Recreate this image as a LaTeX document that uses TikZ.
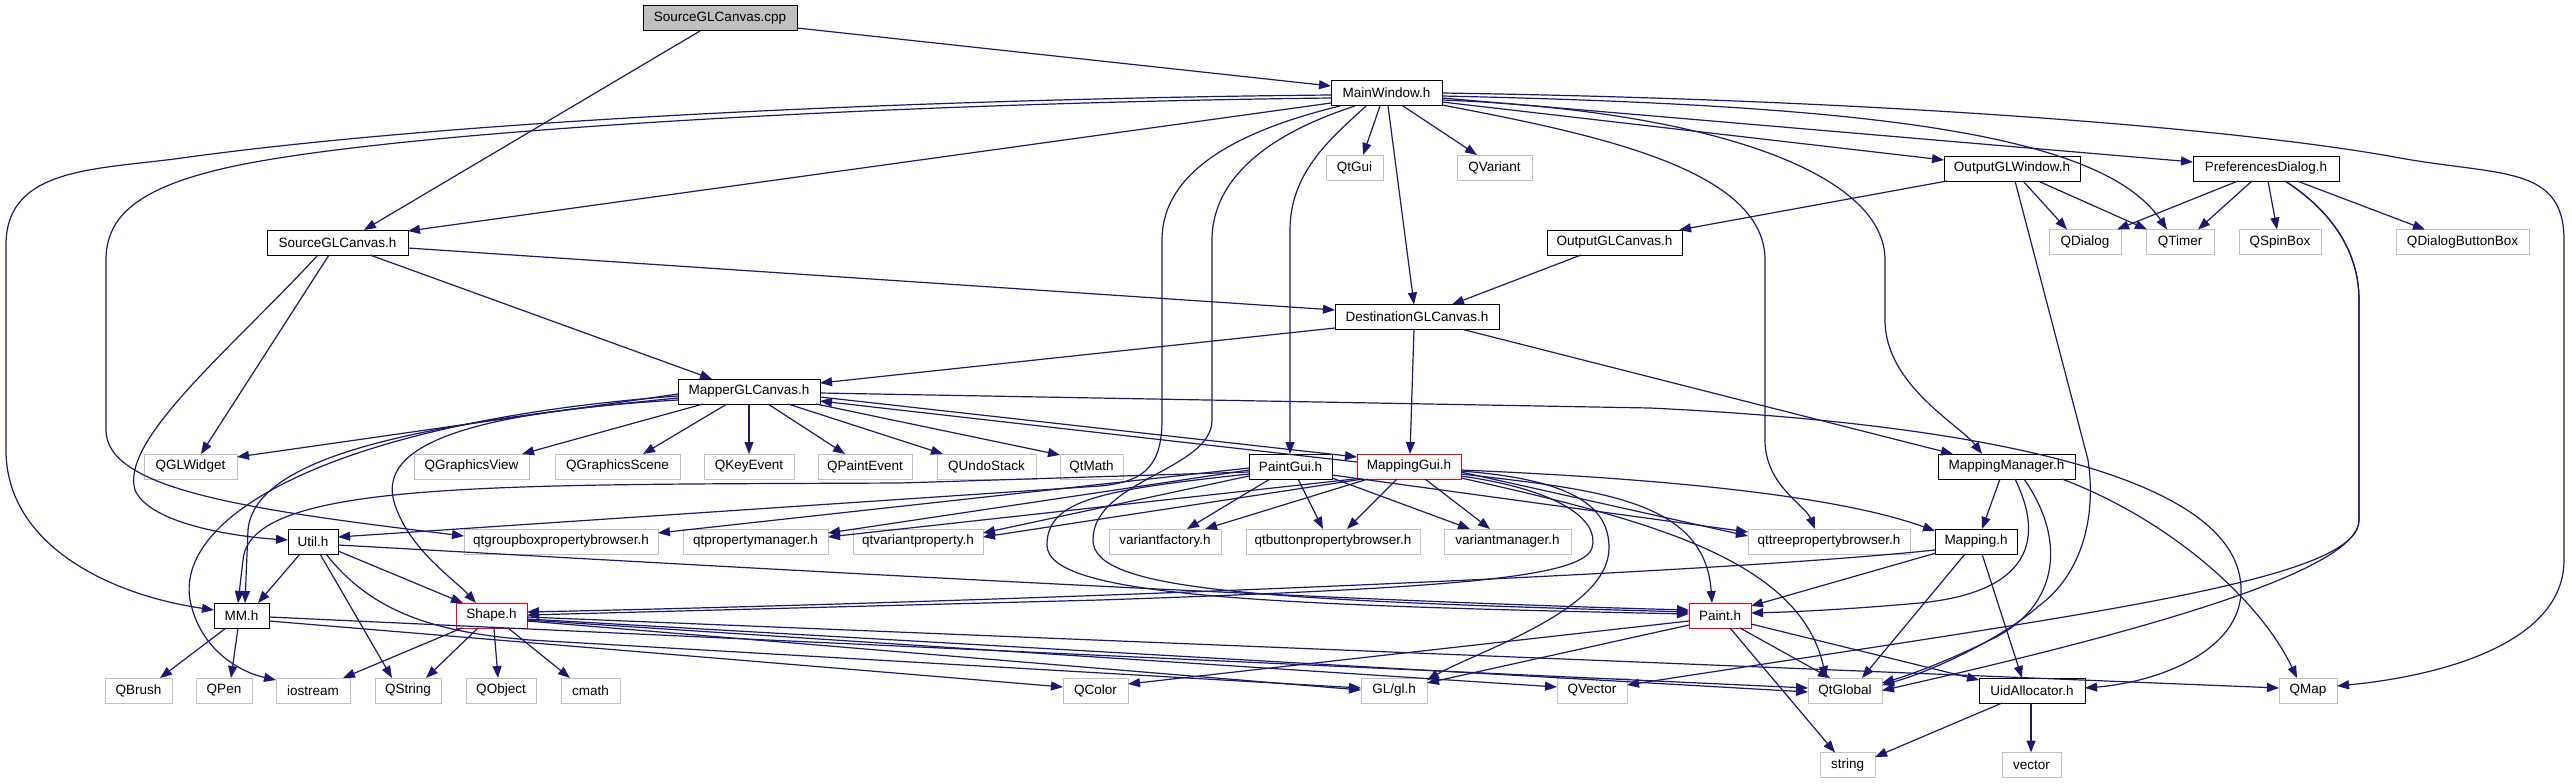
\documentclass[tikz,border=0pt]{standalone}
\usepackage{fontspec}
\setmainfont{Liberation Sans}
\usetikzlibrary{arrows.meta}
\definecolor{edgec}{RGB}{25,25,112}
\definecolor{grayc}{RGB}{191,191,191}
\newcommand{\lbfont}{\fontsize{13.5pt}{16pt}\selectfont}
\begin{document}
\begin{tikzpicture}[x=1pt,y=-1pt,
  nb/.style={draw, line width=1pt, minimum height=25pt, inner sep=0pt, font=\lbfont},
  gb/.style={nb, draw=grayc},
  bb/.style={nb, draw=black},
  rb/.style={nb, draw=red},
  cb/.style={nb, draw=black, fill=grayc},
  e/.style={draw=edgec, line width=1.2pt, -{Triangle[length=12pt,width=9pt]}}]
\fill[white] (0,0) rectangle (2572,784);
\useasboundingbox (0,0) rectangle (2572,784);
% nodes
\node[cb, minimum width=154pt] (cpp) at (720,18.5) {SourceGLCanvas.cpp};
\node[bb, minimum width=111pt] (mw) at (1386.5,93) {MainWindow.h};
\node[gb, minimum width=57pt] (qtgui) at (1354.5,167.5) {QtGui};
\node[gb, minimum width=75pt] (qvar) at (1494.5,167.5) {QVariant};
\node[bb, minimum width=136pt] (ogw) at (2012,168.5) {OutputGLWindow.h};
\node[bb, minimum width=146pt] (pd) at (2266,168.5) {PreferencesDialog.h};
\node[bb, minimum width=141pt] (sgc) at (337.5,242.5) {SourceGLCanvas.h};
\node[bb, minimum width=135pt] (ogc) at (1614.5,242.5) {OutputGLCanvas.h};
\node[gb, minimum width=72pt] (qdlg) at (2085,242) {QDialog};
\node[gb, minimum width=68pt] (qtimer) at (2180,242) {QTimer};
\node[gb, minimum width=82pt] (qspin) at (2280,242) {QSpinBox};
\node[gb, minimum width=133pt] (qdbb) at (2462.5,242) {QDialogButtonBox};
\node[bb, minimum width=164pt] (dgc) at (1417,317) {DestinationGLCanvas.h};
\node[bb, minimum width=142pt] (mgc) at (749,391.5) {MapperGLCanvas.h};
\node[gb, minimum width=93pt] (qgl) at (190.5,466.5) {QGLWidget};
\node[gb, minimum width=115pt] (qgv) at (471.5,466.5) {QGraphicsView};
\node[gb, minimum width=125pt] (qgs) at (617.5,466.5) {QGraphicsScene};
\node[gb, minimum width=90pt] (qke) at (749,466.5) {QKeyEvent};
\node[gb, minimum width=94pt] (qpe) at (865,466.5) {QPaintEvent};
\node[gb, minimum width=99pt] (qus) at (986.5,466.5) {QUndoStack};
\node[gb, minimum width=63pt] (qtmath) at (1091.5,466.5) {QtMath};
\node[bb, minimum width=83pt] (pgui) at (1290.5,466.5) {PaintGui.h};
\node[rb, minimum width=104pt] (mgui) at (1409,466.5) {MappingGui.h};
\node[bb, minimum width=137pt] (mman) at (2006.5,466.5) {MappingManager.h};
\node[bb, minimum width=50pt] (util) at (313,541.5) {Util.h};
\node[gb, minimum width=194pt] (qtgb) at (561,541.5) {qtgroupboxpropertybrowser.h};
\node[gb, minimum width=145pt] (qtpm) at (755.5,541.5) {qtpropertymanager.h};
\node[gb, minimum width=130pt] (qtvp) at (918,541.5) {qtvariantproperty.h};
\node[gb, minimum width=112pt] (vf) at (1165,541.5) {variantfactory.h};
\node[gb, minimum width=174pt] (qtbb) at (1333,541.5) {qtbuttonpropertybrowser.h};
\node[gb, minimum width=127pt] (vm) at (1507.5,541.5) {variantmanager.h};
\node[gb, minimum width=162pt] (qttb) at (1829,541.5) {qttreepropertybrowser.h};
\node[bb, minimum width=82pt] (mapping) at (1976,541.5) {Mapping.h};
\node[bb, minimum width=55pt] (mm) at (241.5,615.5) {MM.h};
\node[rb, minimum width=71pt] (shape) at (491.5,615.5) {Shape.h};
\node[rb, minimum width=62pt] (paint) at (1720,615.5) {Paint.h};
\node[gb, minimum width=67pt] (qbrush) at (138.5,690.5) {QBrush};
\node[gb, minimum width=56pt] (qpen) at (224,690.5) {QPen};
\node[gb, minimum width=74pt] (iostream) at (313,690.5) {iostream};
\node[gb, minimum width=66pt] (qstring) at (408,690.5) {QString};
\node[gb, minimum width=70pt] (qobject) at (501,690.5) {QObject};
\node[gb, minimum width=59pt] (cmath) at (590.5,690.5) {cmath};
\node[gb, minimum width=65pt] (qcolor) at (1095.5,690.5) {QColor};
\node[gb, minimum width=66pt] (gl) at (1394,690.5) {GL/gl.h};
\node[gb, minimum width=70pt] (qvector) at (1592,690.5) {QVector};
\node[gb, minimum width=74pt] (qtglobal) at (1845,690.5) {QtGlobal};
\node[bb, minimum width=106pt] (uid) at (2032,690.5) {UidAllocator.h};
\node[gb, minimum width=58pt] (qmap) at (2308,690.5) {QMap};
\node[gb, minimum width=55pt] (string) at (1847.5,765) {string};
\node[gb, minimum width=59pt] (vector) at (2031.5,765) {vector};
% edges
\draw[e] ([shift={(77,9.5)}]cpp.center) -- ([shift={(-55.5,-7)}]mw.center);
\draw[e] ([shift={(-20,12.5)}]cpp.center) -- ([shift={(26.5,-12.5)}]sgc.center);
\draw[e] ([shift={(-55.5,10)}]mw.center) -- ([shift={(70.5,-11.5)}]sgc.center);
\draw[e] ([shift={(-55.5,2)}]mw.center) .. controls (1000,98) and (500,115) .. (189,157) .. controls (100,170) and (6,165) .. (6,245) -- (6,450) .. controls (6,545) and (110,595) .. ([shift={(-27.5,-5.5)}]mm.center);
\draw[e] ([shift={(-55.5,5)}]mw.center) .. controls (900,103) and (400,130) .. (230,167) .. controls (140,187) and (106,215) .. (106,260) -- (106,430) .. controls (106,490) and (250,510) .. ([shift={(-97,-5.5)}]qtgb.center);
\draw[e] ([shift={(-6.5,13)}]mw.center) -- ([shift={(8.5,-12.5)}]qtgui.center);
\draw[e] ([shift={(16.5,13)}]mw.center) -- ([shift={(-17.5,-12.5)}]qvar.center);
\draw[e] ([shift={(1.5,13)}]mw.center) -- ([shift={(-3,-12.5)}]dgc.center);
\draw[e] ([shift={(-20.5,13)}]mw.center) .. controls (1335,135) and (1290,170) .. (1290,230) -- ([shift={(-0.5,-12.5)}]pgui.center);
\draw[e] ([shift={(-46.5,13)}]mw.center) .. controls (1220,135) and (1162,180) .. (1162,240) -- (1162,420) .. controls (1162,470) and (1140,482) .. (1100,486) -- ([shift={(25,-4.5)}]util.center);
\draw[e] ([shift={(-31.5,13)}]mw.center) .. controls (1250,140) and (1212,190) .. (1212,240) -- (1212,420) .. controls (1212,470) and (1093,480) .. (1093,540) .. controls (1093,590) and (1250,600) .. ([shift={(-31,-3.5)}]paint.center);
\draw[e] ([shift={(55.5,9)}]mw.center) -- ([shift={(-68,-8.5)}]ogw.center);
\draw[e] ([shift={(55.5,5)}]mw.center) -- ([shift={(-73,-6.5)}]pd.center);
\draw[e] ([shift={(55.5,3)}]mw.center) .. controls (1850,105) and (2100,130) .. ([shift={(-13,-12.5)}]qtimer.center);
\draw[e] ([shift={(55.5,0)}]mw.center) .. controls (1900,100) and (2250,130) .. (2400,158) .. controls (2500,176) and (2564,165) .. (2564,240) -- (2564,560) .. controls (2564,640) and (2450,675) .. ([shift={(29,-4.5)}]qmap.center);
\draw[e] ([shift={(55.5,12)}]mw.center) .. controls (1600,135) and (1765,170) .. (1765,260) -- (1765,440) .. controls (1765,485) and (1805,505) .. ([shift={(-14,-12.5)}]qttb.center);
\draw[e] ([shift={(55.5,7)}]mw.center) .. controls (1700,110) and (1885,170) .. (1885,260) -- (1885,320) .. controls (1885,385) and (1960,425) .. ([shift={(-24.5,-12.5)}]mman.center);
% output / preferences
\draw[e] ([shift={(-65,12.5)}]ogw.center) -- ([shift={(64.5,-12.5)}]ogc.center);
\draw[e] ([shift={(11,12.5)}]ogw.center) -- ([shift={(-18,-12.5)}]qdlg.center);
\draw[e] ([shift={(26,12.5)}]ogw.center) -- ([shift={(-33,-12.5)}]qtimer.center);
\draw[e] ([shift={(3,12.5)}]ogw.center) -- (2088,460) .. controls (2097,520) and (2080,575) .. (2040,605) .. controls (2000,640) and (1930,672) .. ([shift={(37,-5.5)}]qtglobal.center);
\draw[e] ([shift={(-28,12.5)}]pd.center) -- ([shift={(32,-12.5)}]qdlg.center);
\draw[e] ([shift={(-14,12.5)}]pd.center) -- ([shift={(18,-12.5)}]qtimer.center);
\draw[e] ([shift={(2,12.5)}]pd.center) -- ([shift={(-3,-12.5)}]qspin.center);
\draw[e] ([shift={(31,12.5)}]pd.center) -- ([shift={(-37.5,-12.5)}]qdbb.center);
\draw[e] ([shift={(19,12.5)}]pd.center) .. controls (2330,210) and (2359,250) .. (2359,300) -- (2359,520) .. controls (2359,580) and (2100,612) .. ([shift={(35,-5.5)}]qvector.center);
\draw[e] ([shift={(19,12.5)}]pd.center) .. controls (2330,210) and (2359,250) .. (2359,300) -- (2359,520) .. controls (2359,570) and (2150,630) .. ([shift={(37,0)}]qtglobal.center);
\draw[e] ([shift={(-33.5,12.5)}]ogc.center) -- ([shift={(35,-12.5)}]dgc.center);
% source / destination
\draw[e] ([shift={(70.5,5.5)}]sgc.center) -- ([shift={(-82,-7)}]dgc.center);
\draw[e] ([shift={(32.5,12.5)}]sgc.center) -- ([shift={(-37,-12.5)}]mgc.center);
\draw[e] ([shift={(-8.5,12.5)}]sgc.center) -- ([shift={(10.5,-12.5)}]qgl.center);
\draw[e] ([shift={(-19.5,12.5)}]sgc.center) .. controls (230,350) and (120,440) .. (135,490) .. controls (150,525) and (240,537) .. ([shift={(-25,-1.5)}]util.center);
\draw[e] ([shift={(-82,11)}]dgc.center) -- ([shift={(71,-8.5)}]mgc.center);
\draw[e] ([shift={(-3,12.5)}]dgc.center) -- ([shift={(1,-12.5)}]mgui.center);
\draw[e] ([shift={(46,12.5)}]dgc.center) -- ([shift={(-53.5,-12.5)}]mman.center);
% mapper canvas
\draw[e] ([shift={(-71,2.5)}]mgc.center) -- ([shift={(46.5,-9.5)}]qgl.center);
\draw[e] ([shift={(-46,12.5)}]mgc.center) -- ([shift={(50.5,-12.5)}]qgv.center);
\draw[e] ([shift={(-22,12.5)}]mgc.center) -- ([shift={(25.5,-12.5)}]qgs.center);
\draw[e] ([shift={(0,12.5)}]mgc.center) -- ([shift={(0,-12.5)}]qke.center);
\draw[e] ([shift={(19,12.5)}]mgc.center) -- ([shift={(-20,-12.5)}]qpe.center);
\draw[e] ([shift={(39,12.5)}]mgc.center) -- ([shift={(-43.5,-12.5)}]qus.center);
\draw[e] ([shift={(67,12.5)}]mgc.center) -- ([shift={(-31.5,-11.5)}]qtmath.center);
\draw[e] ([shift={(71,5.5)}]mgc.center) -- ([shift={(-52,-9.5)}]mgui.center);
\draw[e] ([shift={(-52,-4.5)}]mgui.center) -- ([shift={(71,9.5)}]mgc.center);
\draw[e] ([shift={(71,1.5)}]mgc.center) -- (1650,408) .. controls (2000,425) and (2241,480) .. (2241,590) .. controls (2241,650) and (2160,682) .. ([shift={(53,-2.5)}]uid.center);
\draw[e] ([shift={(-71,6.5)}]mgc.center) .. controls (450,420) and (255,450) .. (248,530) -- ([shift={(3.5,-12.5)}]mm.center);
\draw[e] ([shift={(-71,4.5)}]mgc.center) .. controls (350,420) and (175,510) .. (190,600) .. controls (200,650) and (240,672) .. ([shift={(-37,-10.5)}]iostream.center);
\draw[e] ([shift={(-71,8.5)}]mgc.center) .. controls (420,415) and (380,460) .. (395,505) .. controls (410,550) and (455,580) .. ([shift={(-15.5,-12.5)}]shape.center);
% paint gui
\draw[e] ([shift={(-41.5,5.5)}]pgui.center) -- (900,483) .. controls (500,485) and (250,480) .. (243,560) -- ([shift={(-3.5,-12.5)}]mm.center);
\draw[e] ([shift={(-41.5,7.5)}]pgui.center) .. controls (1100,490) and (1047,500) .. (1047,545) .. controls (1047,595) and (1250,605) .. ([shift={(-31,-1.5)}]paint.center);
\draw[e] ([shift={(-41.5,1.5)}]pgui.center) -- ([shift={(97,-8.5)}]qtgb.center);
\draw[e] ([shift={(-41.5,3.5)}]pgui.center) -- ([shift={(72.5,-8.5)}]qtpm.center);
\draw[e] ([shift={(-41.5,9.5)}]pgui.center) -- ([shift={(65,-8.5)}]qtvp.center);
\draw[e] ([shift={(-20.5,12.5)}]pgui.center) -- ([shift={(22,-12.5)}]vf.center);
\draw[e] ([shift={(7.5,12.5)}]pgui.center) -- ([shift={(-10,-12.5)}]qtbb.center);
\draw[e] ([shift={(41.5,11.5)}]pgui.center) -- ([shift={(-37.5,-12.5)}]vm.center);
\draw[e] ([shift={(41.5,8.5)}]pgui.center) -- ([shift={(-81,-9.5)}]qttb.center);
% mapping gui
\draw[e] ([shift={(-50,12)}]mgui.center) -- ([shift={(72.5,-4.5)}]qtpm.center);
\draw[e] ([shift={(-46,12.5)}]mgui.center) -- ([shift={(65,-4.5)}]qtvp.center);
\draw[e] ([shift={(-41,12.5)}]mgui.center) -- ([shift={(40,-12.5)}]vf.center);
\draw[e] ([shift={(-12,12.5)}]mgui.center) -- ([shift={(14,-12.5)}]qtbb.center);
\draw[e] ([shift={(16,12.5)}]mgui.center) -- ([shift={(-17.5,-12.5)}]vm.center);
\draw[e] ([shift={(52,5.5)}]mgui.center) -- ([shift={(-81,-5.5)}]qttb.center);
\draw[e] ([shift={(52,3.5)}]mgui.center) .. controls (1700,480) and (1850,500) .. ([shift={(-41,-10.5)}]mapping.center);
\draw[e] ([shift={(52,7.5)}]mgui.center) .. controls (1600,490) and (1705,500) .. ([shift={(-8,-12.5)}]paint.center);
\draw[e] ([shift={(52,11.5)}]mgui.center) .. controls (1650,520) and (1800,560) .. ([shift={(-19,-12.5)}]qtglobal.center);
\draw[e] ([shift={(52,9.5)}]mgui.center) .. controls (1560,490) and (1600,520) .. (1592,548) .. controls (1582,578) and (1450,588) .. (1100,600) -- ([shift={(35.5,-0.5)}]shape.center);
\draw[e] ([shift={(52,4.5)}]mgui.center) .. controls (1580,480) and (1609,510) .. (1609,548) .. controls (1609,610) and (1480,650) .. ([shift={(33,-10.5)}]gl.center);
% mapping manager / mapping
\draw[e] ([shift={(-6.5,12.5)}]mman.center) -- ([shift={(6,-12.5)}]mapping.center);
\draw[e] ([shift={(8.5,12.5)}]mman.center) .. controls (2045,540) and (2030,592) .. (1920,603) .. controls (1840,610) and (1790,612) .. ([shift={(31,-2.5)}]paint.center);
\draw[e] ([shift={(17.5,12.5)}]mman.center) .. controls (2070,545) and (2055,610) .. (1990,640) .. controls (1950,660) and (1910,675) .. ([shift={(37,-7.5)}]qtglobal.center);
\draw[e] ([shift={(55.5,12.5)}]mman.center) .. controls (2170,520) and (2260,600) .. ([shift={(-11,-12.5)}]qmap.center);
\draw[e] ([shift={(-40,11.5)}]mapping.center) -- ([shift={(31,-9.5)}]paint.center);
\draw[e] ([shift={(-11,12.5)}]mapping.center) -- ([shift={(17,-12.5)}]qtglobal.center);
\draw[e] ([shift={(6,12.5)}]mapping.center) -- ([shift={(-10,-12.5)}]uid.center);
\draw[e] ([shift={(-41,8.5)}]mapping.center) .. controls (1700,575) and (1000,602) .. ([shift={(35.5,-3.5)}]shape.center);
% paint
\draw[e] ([shift={(20,12.5)}]paint.center) -- ([shift={(-15,-12.5)}]qtglobal.center);
\draw[e] ([shift={(10,12.5)}]paint.center) -- ([shift={(-12.5,-12.5)}]string.center);
\draw[e] ([shift={(31,8.5)}]paint.center) -- ([shift={(-53,-10.5)}]uid.center);
\draw[e] ([shift={(-31,5.5)}]paint.center) -- ([shift={(32.5,-6.5)}]qcolor.center);
\draw[e] ([shift={(-31,9.5)}]paint.center) -- ([shift={(33,-7.5)}]gl.center);
\draw[e] ([shift={(-30,12.5)}]uid.center) -- ([shift={(27.5,-8)}]string.center);
\draw[e] ([shift={(-1,12.5)}]uid.center) -- ([shift={(-0.5,-12.5)}]vector.center);
% util
\draw[e] ([shift={(-13,12.5)}]util.center) -- ([shift={(16.5,-12.5)}]mm.center);
\draw[e] ([shift={(7,12.5)}]util.center) -- ([shift={(-16,-12.5)}]qstring.center);
\draw[e] ([shift={(25,9.5)}]util.center) -- ([shift={(-28.5,-12.5)}]shape.center);
\draw[e] ([shift={(13,12.5)}]util.center) .. controls (370,610) and (430,632) .. (530,640) -- ([shift={(-33,-2.5)}]gl.center);
\draw[e] ([shift={(25,3.5)}]util.center) .. controls (700,565) and (1300,600) .. ([shift={(-31,-5.5)}]paint.center);
% MM
\draw[e] ([shift={(-15.5,12.5)}]mm.center) -- ([shift={(21.5,-12.5)}]qbrush.center);
\draw[e] ([shift={(-3.5,12.5)}]mm.center) -- ([shift={(7,-12.5)}]qpen.center);
\draw[e] ([shift={(27.5,5.5)}]mm.center) -- ([shift={(-32.5,-3.5)}]qcolor.center);
\draw[e] ([shift={(27.5,1.5)}]mm.center) -- ([shift={(-37,-2.5)}]qtglobal.center);
% shape
\draw[e] ([shift={(-29.5,12.5)}]shape.center) -- ([shift={(30,-12.5)}]iostream.center);
\draw[e] ([shift={(-13.5,12.5)}]shape.center) -- ([shift={(18,-12.5)}]qstring.center);
\draw[e] ([shift={(2.5,12.5)}]shape.center) -- ([shift={(-3,-12.5)}]qobject.center);
\draw[e] ([shift={(16.5,12.5)}]shape.center) -- ([shift={(-20.5,-12.5)}]cmath.center);
\draw[e] ([shift={(35.5,1.5)}]shape.center) -- ([shift={(-29,-2.5)}]qmap.center);
\draw[e] ([shift={(35.5,3.5)}]shape.center) -- ([shift={(-37,1.5)}]qtglobal.center);
\draw[e] ([shift={(35.5,5.5)}]shape.center) -- ([shift={(-33,-0.5)}]gl.center);
\draw[e] ([shift={(35.5,4.5)}]shape.center) -- ([shift={(-35,-3.5)}]qvector.center);
\end{tikzpicture}
\end{document}
